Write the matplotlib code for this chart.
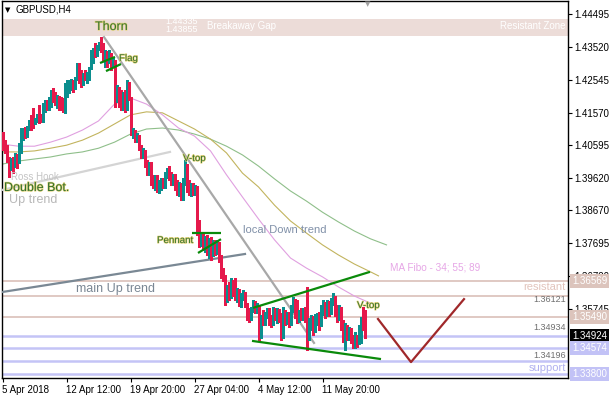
import matplotlib
matplotlib.use("Agg")
import matplotlib.pyplot as plt
import matplotlib.patheffects as pe
import matplotlib.transforms as mtransforms
import numpy as np

# ---------------- data ----------------
symbol = "GBPUSD,H4"
first_open = 1.4096
highs = [1.4099, 1.4075, 1.4060, 1.4025, 1.4022, 1.4025, 1.4037, 1.4034, 1.4066, 1.4111,
         1.4111, 1.4114, 1.4117, 1.4135, 1.4150, 1.4170, 1.4140, 1.4152, 1.4179, 1.4152,
         1.4185, 1.4194, 1.4194, 1.4203, 1.4224, 1.4230, 1.4218, 1.4209, 1.4206, 1.4203,
         1.4200, 1.4245, 1.4254, 1.4254, 1.4257, 1.4254, 1.4263, 1.4304, 1.4304, 1.4283,
         1.4274, 1.4283, 1.4277, 1.4292, 1.4343, 1.4349, 1.4364, 1.4358, 1.4367, 1.4381,
         1.4364, 1.4343, 1.4340, 1.4343, 1.4334, 1.4322, 1.4313, 1.4239, 1.4233, 1.4224,
         1.4218, 1.4224, 1.4254, 1.4248, 1.4203, 1.4111, 1.4105, 1.4096, 1.4090, 1.4060,
         1.4051, 1.4046, 1.4016, 1.4010, 1.4010, 1.3972, 1.3972, 1.3972, 1.3957, 1.3963,
         1.3963, 1.3980, 1.3992, 1.3998, 1.3980, 1.3974, 1.3974, 1.3957, 1.3951, 1.3948,
         1.3963, 1.4016, 1.4004, 1.3957, 1.3948, 1.3948, 1.3942, 1.3939, 1.3838, 1.3802,
         1.3799, 1.3790, 1.3793, 1.3784, 1.3787, 1.3779, 1.3779, 1.3779, 1.3773, 1.3734,
         1.3695, 1.3675, 1.3645, 1.3654, 1.3666, 1.3660, 1.3666, 1.3636, 1.3633, 1.3621,
         1.3630, 1.3624, 1.3591, 1.3576, 1.3579, 1.3600, 1.3597, 1.3591, 1.3585, 1.3556,
         1.3571, 1.3565, 1.3576, 1.3576, 1.3556, 1.3579, 1.3576, 1.3576, 1.3573, 1.3562,
         1.3579, 1.3571, 1.3565, 1.3565, 1.3585, 1.3609, 1.3603, 1.3600, 1.3571, 1.3576,
         1.3576, 1.3579, 1.3639, 1.3547, 1.3556, 1.3553, 1.3559, 1.3562, 1.3565, 1.3585,
         1.3600, 1.3594, 1.3600, 1.3597, 1.3606, 1.3621, 1.3612, 1.3585, 1.3585, 1.3579,
         1.3541, 1.3532, 1.3526, 1.3520, 1.3517, 1.3496, 1.3505, 1.3496, 1.3526, 1.3550,
         1.3579, 1.3571]
lows = [1.4046, 1.4037, 1.4010, 1.3966, 1.3986, 1.3977, 1.3995, 1.3992, 1.4007, 1.4037,
        1.4075, 1.4081, 1.4084, 1.4105, 1.4105, 1.4111, 1.4123, 1.4129, 1.4126, 1.4129,
        1.4130, 1.4159, 1.4165, 1.4165, 1.4173, 1.4188, 1.4179, 1.4170, 1.4165, 1.4165,
        1.4159, 1.4156, 1.4203, 1.4215, 1.4224, 1.4218, 1.4227, 1.4254, 1.4245, 1.4233,
        1.4239, 1.4254, 1.4245, 1.4254, 1.4286, 1.4304, 1.4322, 1.4325, 1.4343, 1.4337,
        1.4313, 1.4292, 1.4292, 1.4304, 1.4283, 1.4292, 1.4173, 1.4188, 1.4173, 1.4165,
        1.4165, 1.4159, 1.4165, 1.4194, 1.4090, 1.4081, 1.4069, 1.4069, 1.4046, 1.4022,
        1.4022, 1.3995, 1.3972, 1.3972, 1.3942, 1.3933, 1.3927, 1.3921, 1.3918, 1.3927,
        1.3933, 1.3933, 1.3963, 1.3957, 1.3942, 1.3942, 1.3927, 1.3912, 1.3909, 1.3897,
        1.3897, 1.3942, 1.3921, 1.3912, 1.3909, 1.3912, 1.3912, 1.3793, 1.3757, 1.3760,
        1.3749, 1.3743, 1.3734, 1.3725, 1.3719, 1.3731, 1.3734, 1.3737, 1.3713, 1.3666,
        1.3657, 1.3585, 1.3594, 1.3600, 1.3606, 1.3612, 1.3600, 1.3594, 1.3582, 1.3579,
        1.3600, 1.3579, 1.3541, 1.3535, 1.3541, 1.3564, 1.3561, 1.3561, 1.3482, 1.3487,
        1.3526, 1.3526, 1.3547, 1.3526, 1.3520, 1.3526, 1.3541, 1.3532, 1.3535, 1.3482,
        1.3487, 1.3526, 1.3529, 1.3520, 1.3526, 1.3565, 1.3547, 1.3532, 1.3535, 1.3541,
        1.3541, 1.3535, 1.3452, 1.3482, 1.3511, 1.3496, 1.3505, 1.3526, 1.3511, 1.3523,
        1.3556, 1.3547, 1.3553, 1.3553, 1.3559, 1.3585, 1.3553, 1.3535, 1.3541, 1.3511,
        1.3476, 1.3452, 1.3482, 1.3482, 1.3473, 1.3458, 1.3458, 1.3461, 1.3470, 1.3473,
        1.3511, 1.3487]
closes = [1.4051, 1.4040, 1.4016, 1.3980, 1.4016, 1.3992, 1.4031, 1.4001, 1.4060, 1.4105,
          1.4108, 1.4090, 1.4114, 1.4132, 1.4129, 1.4123, 1.4138, 1.4149, 1.4135, 1.4132,
          1.4179, 1.4191, 1.4170, 1.4200, 1.4218, 1.4200, 1.4185, 1.4203, 1.4176, 1.4170,
          1.4162, 1.4236, 1.4248, 1.4251, 1.4254, 1.4230, 1.4260, 1.4298, 1.4254, 1.4239,
          1.4268, 1.4257, 1.4274, 1.4289, 1.4337, 1.4346, 1.4328, 1.4355, 1.4364, 1.4343,
          1.4319, 1.4337, 1.4304, 1.4331, 1.4292, 1.4313, 1.4200, 1.4209, 1.4179, 1.4170,
          1.4209, 1.4165, 1.4245, 1.4200, 1.4096, 1.4102, 1.4075, 1.4087, 1.4051, 1.4031,
          1.4046, 1.4001, 1.3980, 1.4004, 1.3948, 1.3939, 1.3966, 1.3927, 1.3951, 1.3957,
          1.3939, 1.3974, 1.3986, 1.3963, 1.3948, 1.3969, 1.3933, 1.3918, 1.3942, 1.3903,
          1.3951, 1.4001, 1.3927, 1.3918, 1.3939, 1.3921, 1.3933, 1.3808, 1.3769, 1.3793,
          1.3760, 1.3779, 1.3743, 1.3773, 1.3734, 1.3767, 1.3743, 1.3764, 1.3725, 1.3675,
          1.3666, 1.3600, 1.3630, 1.3609, 1.3654, 1.3621, 1.3606, 1.3627, 1.3591, 1.3615,
          1.3621, 1.3585, 1.3553, 1.3541, 1.3573, 1.3594, 1.3567, 1.3585, 1.3496, 1.3547,
          1.3535, 1.3559, 1.3571, 1.3535, 1.3529, 1.3573, 1.3547, 1.3567, 1.3541, 1.3493,
          1.3565, 1.3541, 1.3559, 1.3532, 1.3576, 1.3600, 1.3556, 1.3541, 1.3565, 1.3550,
          1.3571, 1.3547, 1.3482, 1.3535, 1.3547, 1.3511, 1.3553, 1.3556, 1.3526, 1.3576,
          1.3588, 1.3559, 1.3594, 1.3565, 1.3600, 1.3612, 1.3565, 1.3547, 1.3576, 1.3520,
          1.3487, 1.3517, 1.3493, 1.3511, 1.3482, 1.3467, 1.3490, 1.3476, 1.3517, 1.3544,
          1.3517, 1.3492]

ma_index = [0, 8, 16, 24, 32, 40, 48, 56, 64, 72, 80, 88, 96, 104, 112, 120,
            128, 136, 144, 152, 160, 168, 176, 184]
ma34 = [1.4063, 1.4057, 1.4057, 1.4069, 1.4084, 1.4105, 1.4132, 1.4182, 1.4200, 1.4182,
        1.4150, 1.4111, 1.4087, 1.4043, 1.3972, 1.3906, 1.3841, 1.3779, 1.3725, 1.3695,
        1.3669, 1.3639, 1.3612, 1.3591]
ma55_index = ma_index + [188]
ma55 = [1.4040, 1.4040, 1.4043, 1.4051, 1.4060, 1.4075, 1.4096, 1.4123, 1.4150, 1.4159,
        1.4156, 1.4132, 1.4108, 1.4078, 1.4037, 1.3977, 1.3936, 1.3882, 1.3835, 1.3799,
        1.3764, 1.3734, 1.3707, 1.3684, 1.3672]
ma89_index = ma_index + [192]
ma89 = [1.4004, 1.4013, 1.4019, 1.4025, 1.4034, 1.4040, 1.4051, 1.4069, 1.4093, 1.4108,
        1.4111, 1.4105, 1.4093, 1.4078, 1.4057, 1.4031, 1.3998, 1.3960, 1.3924, 1.3894,
        1.3861, 1.3832, 1.3805, 1.3782, 1.3764]

price_ticks = [1.44495, 1.43520, 1.42545, 1.41570, 1.40595, 1.39620,
               1.38670, 1.37695, 1.36720, 1.35745]
time_ticks = [0, 32, 64, 96, 128, 160]
time_labels = ["5 Apr 2018", "12 Apr 12:00", "19 Apr 20:00", "27 Apr 04:00",
               "4 May 12:00", "11 May 20:00"]

resist_zone = [1.43855, 1.44335]
resistance_levels = [1.36569, 1.36121, 1.35490]
support_levels = [1.34934, 1.34574, 1.34196, 1.33800]
last_price = 1.34924

downtrend_x, downtrend_y = [50.75, 155.75], [1.4381, 1.3473]
ross_x, ross_y = [-0.25, 83.75], [1.3927, 1.4040]
main_up_x, main_up_y = [-0.25, 121.25], [1.3624, 1.3737]
flag_a_x, flag_a_y = [48.75, 56.25], [1.4304, 1.4322]
flag_b_x, flag_b_y = [51.75, 59.25], [1.4280, 1.4301]
pennant_top_x, pennant_top_y = [94.75, 109.25], [1.3799, 1.3799]
pennant_low_x, pennant_low_y = [97.75, 109.25], [1.3740, 1.3781]
channel_top_x, channel_top_y = [125.25, 183.75], [1.3577, 1.3684]
channel_bot_x, channel_bot_y = [124.75, 189.25], [1.3479, 1.3425]
v_x, v_y = [187.75, 204.25, 230.75], [1.3544, 1.3416, 1.3603]

# ---------------- styling ----------------
W, H = 610, 400
FONT = "Liberation Sans"
plt.rcParams["font.family"] = [FONT, "DejaVu Sans"]
UP = "#0b8e8e"
DOWN = "#e5194b"
RES_C = "#e0c9c3"
SUP_C = "#c4c4f6"
LBL_GREEN = "#2f6f2f"
GLOW = [pe.withStroke(linewidth=0.9, foreground="#e6d47a")]

fig = plt.figure(figsize=(W / 100, H / 100), dpi=100)
ax = fig.add_axes([2 / W, 22 / H, 566 / W, 377 / H])
ax.set_xlim(-0.25, 282.75)
ax.set_ylim(1.33688, 1.44881)

# resistant zone band
ax.axhspan(resist_zone[0], resist_zone[1], color="#ecdcd8", lw=0, zorder=0)

for lv in resistance_levels:
    ax.axhline(lv, color=RES_C, lw=1.4, zorder=1)
for lv in support_levels:
    ax.axhline(lv, color=SUP_C, lw=1.8, zorder=1)

# moving averages
ax.plot(ma89_index, ma89, color="#8fbf8a", lw=0.8, zorder=2)
ax.plot(ma55_index, ma55, color="#c2b45e", lw=0.8, zorder=2)
ax.plot(ma_index, ma34, color="#e0a0e0", lw=0.8, zorder=2)

# trend lines
ax.plot(ross_x, ross_y, color="#d4d4d4", lw=1.6, zorder=3)
ax.plot(main_up_x, main_up_y, color="#7a8894", lw=1.6, zorder=3)
ax.plot(downtrend_x, downtrend_y, color="#a8a8a8", lw=1.6, zorder=3)

# OHLC bars (high-low sticks, coloured by direction)
n = len(closes)
idx = np.arange(n)
opens = [first_open] + closes[:-1]
cols = [UP if c >= o else DOWN for o, c in zip(opens, closes)]
ax.vlines(idx, lows, highs, colors=cols, lw=0.9, antialiased=False, zorder=4)

# green pattern lines
for xs, ys in [(flag_a_x, flag_a_y), (flag_b_x, flag_b_y),
               (pennant_top_x, pennant_top_y), (pennant_low_x, pennant_low_y),
               (channel_top_x, channel_top_y), (channel_bot_x, channel_bot_y)]:
    ax.plot(xs, ys, color="#0a8a0a", lw=1.6, zorder=5, solid_capstyle="butt")
ax.plot(v_x, v_y, color="#a0282a", lw=1.6, zorder=5)

# axes / ticks
for s in ax.spines.values():
    s.set_color("black")
    s.set_linewidth(1.0)
ax.yaxis.tick_right()
ax.set_yticks(price_ticks)
ax.set_yticklabels([f"{t:.5f}" for t in price_ticks])
ax.tick_params(axis="y", direction="out", length=3, width=0.8, pad=1.5,
               labelsize=7, colors="black")
ax.set_xticks(time_ticks)
ax.set_xticklabels(time_labels, ha="left")
ax.tick_params(axis="x", direction="out", length=3, width=0.8, pad=2,
               labelsize=7, colors="black")
offset = mtransforms.ScaledTranslation(-1 / 100, 0, fig.dpi_scale_trans)
for lbl in ax.get_xticklabels():
    lbl.set_transform(lbl.get_transform() + offset)

# ---------------- texts ----------------
def ftxt(x, y, s, **kw):
    fig.text(x / W, 1 - y / H, s, va="center", **kw)

ftxt(5, 10, "\u25BC", fontsize=5, color="black", family="DejaVu Sans")
ftxt(16, 10, symbol, fontsize=7, color="black")
ftxt(368, 4, "\u25BC", fontsize=5, color="#a0a0a0", family="DejaVu Sans", ha="center")

ftxt(95, 27, "Thorn", fontsize=9, color=LBL_GREEN, path_effects=GLOW)
ftxt(119, 58, "Flag", fontsize=7, color=LBL_GREEN, path_effects=GLOW)
ftxt(11, 177, "Ross Hook", fontsize=7, color="#c4c4c4")
ftxt(4, 188, "Double Bot.", fontsize=9, color=LBL_GREEN, path_effects=GLOW)
ftxt(9, 200, "Up trend", fontsize=9, color="#b8b8b8")
ftxt(183, 158, "V-top", fontsize=7, color=LBL_GREEN, path_effects=GLOW)
ftxt(157, 240, "Pennant", fontsize=7, color=LBL_GREEN, path_effects=GLOW)
ftxt(243, 230, "local Down trend", fontsize=8, color="#8090a8")
ftxt(390, 268, "MA Fibo - 34; 55; 89", fontsize=7.2, color="#e6a6e6")
ftxt(76, 289, "main Up trend", fontsize=9, color="#7a8794")
ftxt(357, 305, "V-top", fontsize=7, color=LBL_GREEN, path_effects=GLOW)

ftxt(207, 26, "Breakaway Gap", fontsize=7, color="white")
ftxt(566, 26, "Resistant Zone", fontsize=7, color="white", ha="right")
ftxt(198, 22, "1.44335", fontsize=6.5, color="white", ha="right")
ftxt(198, 30, "1.43855", fontsize=6.5, color="white", ha="right")

ftxt(566, 287, "resistant", fontsize=8, color="#e2c4bc", ha="right")
ftxt(566, 300, "1.36121", fontsize=6.5, color="#6f6f6f", ha="right")
ftxt(566, 327, "1.34934", fontsize=6.5, color="#6f6f6f", ha="right")
ftxt(566, 355, "1.34196", fontsize=6.5, color="#6f6f6f", ha="right")
ftxt(566, 368, "support", fontsize=8, color="#b0b0f0", ha="right")

# price boxes on the right axis
blend = mtransforms.blended_transform_factory(ax.transAxes, ax.transData)
box_specs = [(resistance_levels[0], "#dcc4bc", "white"),
             (resistance_levels[2], "#dcc4bc", "white"),
             (last_price, "black", "white"),
             (support_levels[1], "#c2c2f6", "white"),
             (support_levels[3], "#c2c2f6", "white")]
for lv, fc, tc in box_specs:
    ax.text(1.0 + 4 / 566, lv, f"{lv:.5f}", transform=blend, ha="left", va="center",
            fontsize=7, color=tc, clip_on=False, zorder=10,
            bbox=dict(boxstyle="square,pad=0.2", fc=fc, ec="none"))

fig.savefig("out.png", dpi=100)
